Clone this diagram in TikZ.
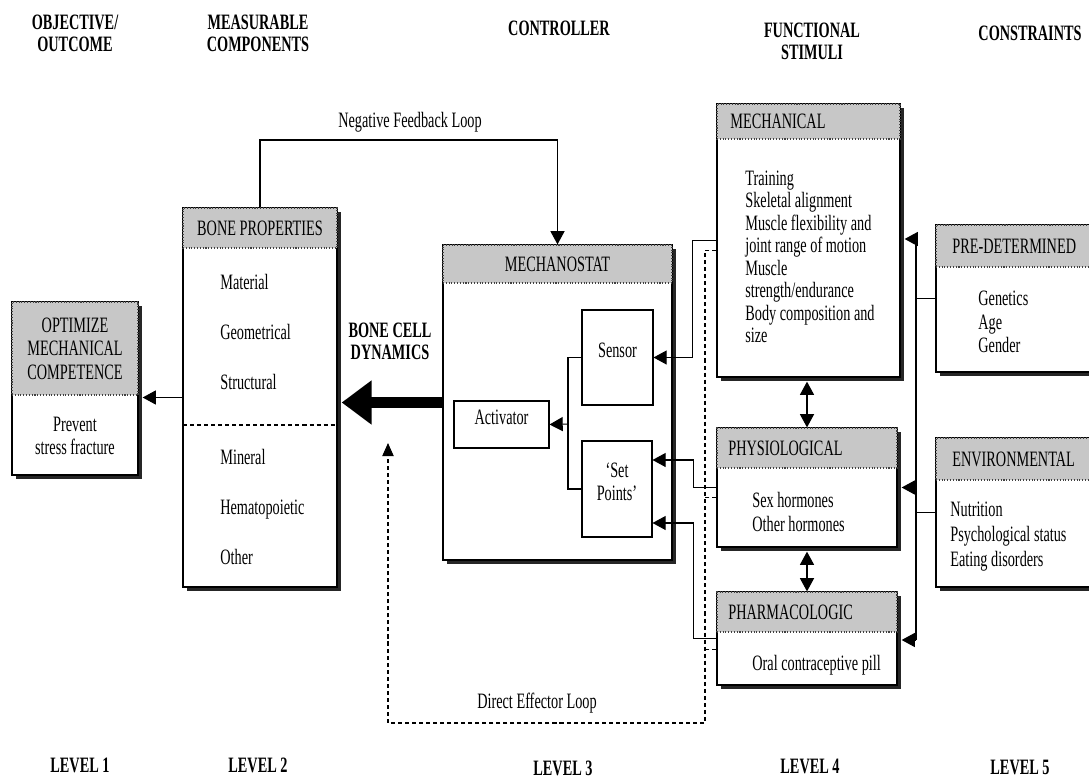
\documentclass[tikz,border=0pt]{standalone}
\usepackage{fontspec}
\setmainfont{Liberation Serif}[FakeStretch=0.65]
\usetikzlibrary{calc,fit,arrows.meta}

\tikzset{
  every node/.style={font=\fontsize{12.5}{13.5}\selectfont},
  body/.style={draw, fill=white, inner sep=0pt, line width=0.7pt},
  head/.style={draw=black!75, densely dotted, fill=black!22, inner sep=0pt, line width=0.6pt},
  shade/.style={fill=black!85},
  inbox/.style={draw, inner sep=0pt, line width=0.6pt},
  item/.style={anchor=west, align=left, inner sep=0pt},
  hdtext/.style={inner sep=0pt},
  title/.style={align=center, inner sep=0pt, font=\bfseries\fontsize{12.5}{12.6}\selectfont},
  link/.style={line width=0.6pt, -{Triangle[length=7.5pt,width=8pt]}},
  twoway/.style={line width=0.6pt, {Triangle[length=7.5pt,width=8pt]}-{Triangle[length=7.5pt,width=8pt]}},
  loopline/.style={line width=0.6pt, dash pattern=on 2.3pt off 1.7pt},
  bigarrow/.style={line width=6.8pt, -{Triangle[length=17pt,width=24pt]}},
}

% box with shadow: name, left, top, right, bottom (pixels)
\newcommand{\shadowpanel}[5]{%
  \fill[shade] (#2+4,#3+4) rectangle (#4+4,#5+4);
  \node[body, fit={(#2,#3)(#4,#5)}] (#1) {};
}
% grey strip on top of a box
\newcommand{\headstrip}[5]{%
  \node[head, fit={(#2,#3)(#4,#5)}] (#1-head) {};
}

\begin{document}
\begin{tikzpicture}[x=0.02cm, y=-0.02cm]
\useasboundingbox (0,0) rectangle (1089,781);
\clip (0,0) rectangle (1089,781);

% column titles
\node[title] (obj) at (75,33) {OBJECTIVE/\\OUTCOME};
\node[title] (meas) at (258,33) {MEASURABLE\\COMPONENTS};
\node[title] (ctrl) at (559,28) {CONTROLLER};
\node[title] (func) at (812,41) {FUNCTIONAL\\STIMULI};
\node[title] (cons) at (1030,33) {CONSTRAINTS};

% level 1
\shadowpanel{optim}{12}{302}{138}{475}
\headstrip{optim}{12}{302}{138}{395}
\node[hdtext, align=center, font=\fontsize{12.5}{13.3}\selectfont] (optim-t) at (optim-head) {OPTIMIZE\\MECHANICAL\\COMPETENCE};
\node[hdtext, align=center] (optim-b) at (75,436) {Prevent\\stress fracture};

% level 2
\shadowpanel{props}{183}{208}{337}{587}
\headstrip{props}{183}{208}{337}{248}
\node[hdtext] (props-t) at (props-head) {BONE PROPERTIES};
\draw[loopline] (183,425) -- (337,425);
\node[item, font=\fontsize{12.5}{28.4}\selectfont] (props-a) at (220,332) {Material\\Geometrical\\Structural};
\node[item, font=\fontsize{12.5}{28.4}\selectfont] (props-b) at (220,507) {Mineral\\Hematopoietic\\Other};

% level 3
\shadowpanel{mstat}{443}{245}{672}{560}
\headstrip{mstat}{443}{245}{672}{283}
\node[hdtext] (mstat-t) at (mstat-head) {MECHANOSTAT};
\node[inbox, fit={(582,310)(653,405)}] (sensor) {Sensor};
\node[inbox, fit={(582,441)(652,537)}, align=center] (setpts) {‘Set\\Points’};
\node[inbox, fit={(454,401)(549,448)}] (activ) {Activator};
\node[title] (bcd) at (390,341) {BONE CELL\\DYNAMICS};

% level 4
\shadowpanel{mechl}{717}{104}{900}{377}
\headstrip{mechl}{717}{104}{900}{139}
\node[hdtext, anchor=west] (mechl-t) at (730,121) {MECHANICAL};
\node[item, font=\fontsize{12.5}{12.8}\selectfont] (mechl-l) at (745,257) {Training\\Skeletal alignment\\Muscle flexibility and\\joint range of motion\\Muscle\\strength/endurance\\Body composition and\\size};
\shadowpanel{physio}{717}{428}{897}{547}
\headstrip{physio}{717}{428}{897}{468}
\node[hdtext, anchor=west] (physio-t) at (728,448) {PHYSIOLOGICAL};
\node[item, font=\fontsize{12.5}{14.2}\selectfont] (physio-l) at (752,512) {Sex hormones\\Other hormones};
\shadowpanel{pharm}{717}{592}{897}{685}
\headstrip{pharm}{717}{592}{897}{632}
\node[hdtext, anchor=west] (pharm-t) at (728,612) {PHARMACOLOGIC};
\node[item] (pharm-l) at (752,665) {Oral contraceptive pill};

% level 5
\shadowpanel{predet}{936}{225}{1110}{372}
\headstrip{predet}{936}{225}{1110}{267}
\node[hdtext, anchor=west] (predet-t) at (952,246) {PRE-DETERMINED};
\node[item, font=\fontsize{12.5}{13.3}\selectfont] (predet-l) at (978,322) {Genetics\\Age\\Gender};
\shadowpanel{envir}{936}{438}{1110}{587}
\headstrip{envir}{936}{438}{1110}{480}
\node[hdtext, anchor=west] (envir-t) at (952,459) {ENVIRONMENTAL};
\node[item, font=\fontsize{12.5}{14.2}\selectfont] (envir-l) at (950,537) {Nutrition\\Psychological status\\Eating disorders};

% outputs
\draw[link, shorten >=2.3pt] (props.west) -- (props.west -| optim.east);
\draw[bigarrow, shorten >=2.3pt] (mstat.west) -- (mstat.west -| props.east);

% negative feedback
\coordinate (fb) at (410,140);
\draw[link] (props.north) |- (fb) -| (mstat.north);
\node (fbl) at (410,122) {Negative Feedback Loop};

% inside the mechanostat
\coordinate (brk) at (568,424);
\draw[line width=0.6pt] (sensor.west) -| (brk) |- (setpts.west);
\draw[link] (brk) -- (activ.east);

% stimuli into the mechanostat
\coordinate (sp1) at ($(setpts.east)+(0,-29)$);
\coordinate (sp2) at ($(setpts.east)+(0,34)$);
\draw[link] (mechl.west) -| ($(sensor.east)+(39,0)$) -- (sensor.east);
\draw[link] (physio.west) -| ($(sp1)+(41,0)$) -- (sp1);
\draw[link] (pharm.west) -| ($(sp2)+(41,0)$) -- (sp2);

% direct effector loop
\coordinate (delc) at (705,723);
\coordinate (deltip) at (388,443);
\draw[loopline, -{Triangle[length=7.5pt,width=6.5pt]}] ($(mechl.north west)+(0,147)$) -| (delc) -| (deltip);
\draw[loopline] ($(physio.west)+(0,10)$) -- ++(-12,0);
\draw[loopline] ($(pharm.west)+(0,11)$) -- ++(-12,0);
\node (dell) at (537,703) {Direct Effector Loop};

% stimuli among themselves
\draw[twoway, shorten <=2.3pt] (physio.north |- mechl.south) -- (physio.north);
\draw[twoway, shorten <=2.3pt] (physio.south) -- (pharm.north);

% constraints
\coordinate (trtop) at (916,239);
\coordinate (trbot) at (916,640);
\draw[line width=0.6pt] (trtop) -- (trbot);
\draw[link, shorten >=2.3pt] (trtop) -- (trtop -| mechl.east);
\draw[link, shorten >=2.3pt] (physio.east -| trtop) -- (physio.east);
\draw[link, shorten >=2.3pt] (trbot) -- (trbot -| pharm.east);
\draw[line width=0.6pt] (predet.west) -- (predet.west -| trtop);
\draw[line width=0.6pt] (envir.west) -- (envir.west -| trtop);

% levels
\node[title] (lv1) at (80,765) {LEVEL 1};
\node[title] (lv2) at (258,765) {LEVEL 2};
\node[title] (lv3) at (563,768) {LEVEL 3};
\node[title] (lv4) at (810,766) {LEVEL 4};
\node[title] (lv5) at (1020,767) {LEVEL 5};
\end{tikzpicture}
\end{document}
